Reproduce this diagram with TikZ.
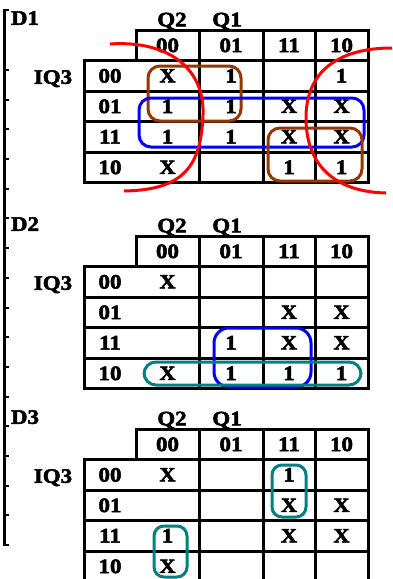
\documentclass[tikz,border=0pt]{standalone}
\usepackage{fontspec}
\setmainfont{Liberation Serif}[FakeStretch=1.12,BoldFeatures={FakeBold=2.6}]
\definecolor{loopbrown}{RGB}{153,51,0}
\definecolor{loopteal}{RGB}{0,128,128}
\tikzset{
  grid/.style={line width=3pt,line cap=rect},
  kloop/.style={line width=3pt,rounded corners=#1},
  kloop/.default=12pt,
  xcell/.style={font=\fontsize{20}{20}\bfseries\selectfont}
}
\begin{document}
\begin{tikzpicture}[x=1pt,y=-1pt,every node/.style={font=\fontsize{20.5}{20}\bfseries\selectfont,inner sep=0pt,text depth=0pt}]
  \clip (0,0) rectangle (392,579);
  % left rail with ticks
  \draw [line width=3.5pt] (4.5,9) -- (4.5,546);
  \draw [line width=2pt] (4.5,10) -- (8.5,10);
  \foreach \k in {0,...,16}
    \draw [line width=2pt] (4.5,{70+29.69*\k}) -- ++(4,0);
  % the three maps
  \foreach \m/\T in {1/30,2/236,3/429} {
    \begin{scope}[shift={(0,\T)}]
      \draw [grid] (136,0) rectangle (368,30.5);
      \draw [grid] (84,30.5) rectangle (368,152.5);
      \foreach \y in {61,91.5,122} \draw [grid] (84,\y) -- (368,\y);
      \foreach \x in {199,263,315} \draw [grid] (\x,0) -- (\x,152.5);
      \node (d\m) at (25,-12) {D\m};
      \node (qa\m) at (172,-10.5) {Q2};
      \node (qb\m) at (227,-10.5) {Q1};
      \node (iq\m) at (53,47) {IQ3};
      \foreach \t/\hx [count=\i from 0] in {00/167.5,01/231,11/289,10/341.5} {
        \node (h\m\i) at (\hx,15.25) {\t};
        \node (r\m\i) at (110,{45.75+30.5*\i}) {\t};
      }
    \end{scope}
  }
  % cell entries: column/row/value
  \foreach \c/\r/\v/\s in {0/0/X/xcell,1/0/1/,3/0/1/,0/1/1/,1/1/1/,2/1/X/xcell,3/1/X/xcell,
      0/2/1/,1/2/1/,2/2/X/xcell,3/2/X/xcell,0/3/X/xcell,2/3/1/,3/3/1/}
    \node [\s] (c1\c\r) at (h1\c |- r1\r) {\v};
  \foreach \c/\r/\v/\s in {0/0/X/xcell,2/1/X/xcell,3/1/X/xcell,1/2/1/,2/2/X/xcell,3/2/X/xcell,
      0/3/X/xcell,1/3/1/,2/3/1/,3/3/1/}
    \node [\s] (c2\c\r) at (h2\c |- r2\r) {\v};
  \foreach \c/\r/\v/\s in {0/0/X/xcell,2/0/1/,2/1/X/xcell,3/1/X/xcell,0/2/1/,2/2/X/xcell,
      3/2/X/xcell,0/3/X/xcell}
    \node [\s] (c3\c\r) at (h3\c |- r3\r) {\v};
  % groupings of D1
  \draw [kloop,loopbrown] (148,66) rectangle (241,121);
  \draw [kloop,blue] (139,98) rectangle (364,147);
  \draw [kloop,loopbrown] (268,128) rectangle (362,181);
  \draw [red,line width=3pt] (110,44) .. controls (170,40) and (205,70) .. (203,115)
    .. controls (201,165) and (185,190) .. (124,191);
  \draw [red,line width=3pt] (392,48) .. controls (340,48) and (305,70) .. (306,120)
    .. controls (307,170) and (340,192) .. (386,193);
  % groupings of D2
  \draw [kloop=15pt,blue] (214,328) rectangle (311,387);
  \draw [kloop,loopteal] (144,362) rectangle (361,385);
  % groupings of D3
  \draw [kloop=10pt,loopteal] (272,465) rectangle (306,517);
  \draw [kloop=10pt,loopteal] (154,526) rectangle (187,577);
\end{tikzpicture}
\end{document}
